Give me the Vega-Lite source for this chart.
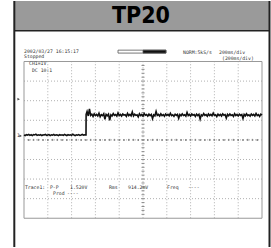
{
  "$schema": "https://vega.github.io/schema/vega-lite/v6.json",
  "width": 271,
  "height": 248,
  "padding": 0,
  "autosize": {"type": "fit", "contains": "padding"},
  "background": "white",
  "config": {"view": {"stroke": null}},
  "datasets": {
    "vgrid": [{"x": 200, "y": -4, "y2": 4}, {"x": 400, "y": -4, "y2": 4}, {"x": 600, "y": -4, "y2": 4}, {"x": 800, "y": -4, "y2": 4}, {"x": 1200, "y": -4, "y2": 4}, {"x": 1400, "y": -4, "y2": 4}, {"x": 1600, "y": -4, "y2": 4}, {"x": 1800, "y": -4, "y2": 4}, {"x": 1000, "y": -4, "y2": 4}],
    "hgrid": [{"y": -3, "x": 0, "x2": 2000}, {"y": -2, "x": 0, "x2": 2000}, {"y": -1, "x": 0, "x2": 2000}, {"y": 1, "x": 0, "x2": 2000}, {"y": 2, "x": 0, "x2": 2000}, {"y": 3, "x": 0, "x2": 2000}, {"y": 0, "x": 0, "x2": 2000}],
    "vticks": [{"y": -3.8}, {"y": -3.6}, {"y": -3.4}, {"y": -3.2}, {"y": -3}, {"y": -2.8}, {"y": -2.6}, {"y": -2.4}, {"y": -2.2}, {"y": -2}, {"y": -1.8}, {"y": -1.6}, {"y": -1.4}, {"y": -1.2}, {"y": -1}, {"y": -0.8}, {"y": -0.6}, {"y": -0.4}, {"y": -0.2}, {"y": 0}, {"y": 0.2}, {"y": 0.4}, {"y": 0.6}, {"y": 0.8}, {"y": 1}, {"y": 1.2}, {"y": 1.4}, {"y": 1.6}, {"y": 1.8}, {"y": 2}, {"y": 2.2}, {"y": 2.4}, {"y": 2.6}, {"y": 2.8}, {"y": 3}, {"y": 3.2}, {"y": 3.4}, {"y": 3.6}, {"y": 3.8}],
    "hticks": [{"x": 40}, {"x": 80}, {"x": 120}, {"x": 160}, {"x": 200}, {"x": 240}, {"x": 280}, {"x": 320}, {"x": 360}, {"x": 400}, {"x": 440}, {"x": 480}, {"x": 520}, {"x": 560}, {"x": 600}, {"x": 640}, {"x": 680}, {"x": 720}, {"x": 760}, {"x": 800}, {"x": 840}, {"x": 880}, {"x": 920}, {"x": 960}, {"x": 1000}, {"x": 1040}, {"x": 1080}, {"x": 1120}, {"x": 1160}, {"x": 1200}, {"x": 1240}, {"x": 1280}, {"x": 1320}, {"x": 1360}, {"x": 1400}, {"x": 1440}, {"x": 1480}, {"x": 1520}, {"x": 1560}, {"x": 1600}, {"x": 1640}, {"x": 1680}, {"x": 1720}, {"x": 1760}, {"x": 1800}, {"x": 1840}, {"x": 1880}, {"x": 1920}, {"x": 1960}]
  },
  "layer": [
    {
      "data": {"values": [{"x": -81.5, "x2": 2063, "y": 7.089, "y2": 5.57}]},
      "mark": {"type": "rect", "fill": "#9a9a9a"},
      "encoding": {
        "x": {"field": "x", "type": "quantitative", "scale": {"domain": [-201.7, 2075.6], "nice": false, "zero": false}, "axis": null},
        "x2": {"field": "x2"},
        "y": {"field": "y", "type": "quantitative", "scale": {"domain": [-5.468, 7.089], "nice": false, "zero": false}, "axis": null},
        "y2": {"field": "y2"}
      }
    },
    {
      "data": {"values": [{"x": -81.5, "x2": 2063, "y": 5.57}]},
      "mark": {"type": "rule", "stroke": "#222222", "strokeWidth": 1.5},
      "encoding": {
        "x": {"field": "x", "type": "quantitative", "scale": {"domain": [-201.7, 2075.6], "nice": false, "zero": false}, "axis": null},
        "x2": {"field": "x2"},
        "y": {"field": "y", "type": "quantitative", "scale": {"domain": [-5.468, 7.089], "nice": false, "zero": false}, "axis": null}
      }
    },
    {
      "data": {"values": [{"x": -81.5, "y": 7.089, "y2": -5.468}, {"x": 2063, "y": 7.089, "y2": -5.468}]},
      "mark": {"type": "rule", "stroke": "#222222", "strokeWidth": 2},
      "encoding": {
        "x": {"field": "x", "type": "quantitative", "scale": {"domain": [-201.7, 2075.6], "nice": false, "zero": false}, "axis": null},
        "y": {"field": "y", "type": "quantitative", "scale": {"domain": [-5.468, 7.089], "nice": false, "zero": false}, "axis": null},
        "y2": {"field": "y2"}
      }
    },
    {
      "data": {"values": [{"x": 983, "y": 6.33, "s": "TP20"}]},
      "mark": {"type": "text", "font": "DejaVu Sans Condensed, Liberation Sans, sans-serif", "fontWeight": "bold", "fontSize": 23, "fill": "#000000", "align": "center", "baseline": "middle"},
      "encoding": {
        "x": {"field": "x", "type": "quantitative", "scale": {"domain": [-201.7, 2075.6], "nice": false, "zero": false}, "axis": null},
        "y": {"field": "y", "type": "quantitative", "scale": {"domain": [-5.468, 7.089], "nice": false, "zero": false}, "axis": null},
        "text": {"field": "s"}
      }
    },
    {
      "data": {"name": "vgrid"},
      "mark": {"type": "rule", "stroke": "#b0b0b0", "strokeWidth": 1, "strokeDash": [1, 2]},
      "encoding": {
        "x": {"field": "x", "type": "quantitative", "scale": {"domain": [-201.7, 2075.6], "nice": false, "zero": false}, "axis": null},
        "y": {"field": "y", "type": "quantitative", "scale": {"domain": [-5.468, 7.089], "nice": false, "zero": false}, "axis": null},
        "y2": {"field": "y2"}
      }
    },
    {
      "data": {"name": "hgrid"},
      "mark": {"type": "rule", "stroke": "#b0b0b0", "strokeWidth": 1, "strokeDash": [1, 2]},
      "encoding": {
        "x": {"field": "x", "type": "quantitative", "scale": {"domain": [-201.7, 2075.6], "nice": false, "zero": false}, "axis": null},
        "x2": {"field": "x2"},
        "y": {"field": "y", "type": "quantitative", "scale": {"domain": [-5.468, 7.089], "nice": false, "zero": false}, "axis": null}
      }
    },
    {
      "data": {"name": "vticks"},
      "mark": {"type": "tick", "orient": "horizontal", "size": 3, "thickness": 1, "color": "#8a8a8a", "opacity": 1},
      "encoding": {
        "x": {"datum": 1000, "type": "quantitative", "scale": {"domain": [-201.7, 2075.6], "nice": false, "zero": false}, "axis": null},
        "y": {"field": "y", "type": "quantitative", "scale": {"domain": [-5.468, 7.089], "nice": false, "zero": false}, "axis": null}
      }
    },
    {
      "data": {"name": "hticks"},
      "mark": {"type": "tick", "orient": "vertical", "size": 2, "thickness": 1.5, "color": "#8a8a8a", "opacity": 1},
      "encoding": {
        "x": {"field": "x", "type": "quantitative", "scale": {"domain": [-201.7, 2075.6], "nice": false, "zero": false}, "axis": null},
        "y": {"datum": 0, "type": "quantitative", "scale": {"domain": [-5.468, 7.089], "nice": false, "zero": false}, "axis": null}
      }
    },
    {
      "data": {"values": [{"x": 0, "x2": 2000, "y": -4, "y2": 4}]},
      "mark": {"type": "rect", "fill": "transparent", "stroke": "#999999", "strokeWidth": 1},
      "encoding": {
        "x": {"field": "x", "type": "quantitative", "scale": {"domain": [-201.7, 2075.6], "nice": false, "zero": false}, "axis": null},
        "x2": {"field": "x2"},
        "y": {"field": "y", "type": "quantitative", "scale": {"domain": [-5.468, 7.089], "nice": false, "zero": false}, "axis": null},
        "y2": {"field": "y2"}
      }
    },
    {
      "data": {"values": [
        {"x":0,"y":0.25},{"x":10,"y":0.22},{"x":20,"y":0.27},{"x":30,"y":0.24},{"x":40,"y":0.28},{"x":50,"y":0.23},{"x":60,"y":0.26},{"x":70,"y":0.22},{"x":80,"y":0.27},{"x":90,"y":0.25},
        {"x":100,"y":0.29},{"x":110,"y":0.23},{"x":120,"y":0.26},{"x":130,"y":0.24},{"x":140,"y":0.27},{"x":150,"y":0.22},{"x":160,"y":0.26},{"x":170,"y":0.25},{"x":180,"y":0.28},{"x":190,"y":0.23},
        {"x":200,"y":0.25},{"x":210,"y":0.27},{"x":220,"y":0.22},{"x":230,"y":0.26},{"x":240,"y":0.24},{"x":250,"y":0.28},{"x":260,"y":0.23},{"x":270,"y":0.26},{"x":280,"y":0.25},{"x":290,"y":0.22},
        {"x":300,"y":0.27},{"x":310,"y":0.24},{"x":320,"y":0.26},{"x":330,"y":0.23},{"x":340,"y":0.28},{"x":350,"y":0.25},{"x":360,"y":0.22},{"x":370,"y":0.27},{"x":380,"y":0.24},{"x":390,"y":0.26},
        {"x":400,"y":0.23},{"x":410,"y":0.29},{"x":420,"y":0.25},{"x":430,"y":0.22},{"x":440,"y":0.26},{"x":450,"y":0.24},{"x":460,"y":0.27},{"x":470,"y":0.23},{"x":480,"y":0.25},{"x":490,"y":0.28},
        {"x":500,"y":0.24},{"x":510,"y":0.26},{"x":520,"y":0.25},{"x":521,"y":0.25},{"x":522,"y":1.30},
        {"x":530,"y":1.45},{"x":540,"y":1.22},{"x":550,"y":1.58},{"x":560,"y":1.25},{"x":570,"y":1.31},{"x":580,"y":1.20},{"x":590,"y":1.33},{"x":600,"y":1.24},{"x":610,"y":1.30},{"x":620,"y":1.22},
        {"x":630,"y":1.36},{"x":640,"y":1.18},{"x":650,"y":1.29},{"x":660,"y":1.24},{"x":670,"y":1.33},{"x":680,"y":1.05},{"x":690,"y":1.30},{"x":700,"y":1.23},{"x":710,"y":1.31},{"x":720,"y":1.00},
        {"x":730,"y":1.28},{"x":740,"y":1.22},{"x":750,"y":1.34},{"x":760,"y":1.25},{"x":770,"y":1.29},{"x":780,"y":1.21},{"x":790,"y":1.38},{"x":800,"y":1.24},{"x":810,"y":1.30},{"x":820,"y":1.22},
        {"x":830,"y":1.32},{"x":840,"y":1.26},{"x":850,"y":1.28},{"x":860,"y":1.20},{"x":870,"y":1.35},{"x":880,"y":1.24},{"x":890,"y":1.30},{"x":900,"y":1.23},{"x":910,"y":1.42},{"x":920,"y":1.22},
        {"x":930,"y":1.31},{"x":940,"y":1.25},{"x":950,"y":1.28},{"x":960,"y":1.17},{"x":970,"y":1.33},{"x":980,"y":1.24},{"x":990,"y":1.30},{"x":1000,"y":1.22},{"x":1010,"y":1.34},{"x":1020,"y":1.26},
        {"x":1030,"y":1.29},{"x":1040,"y":1.21},{"x":1050,"y":1.31},{"x":1060,"y":1.24},{"x":1070,"y":1.30},{"x":1080,"y":1.08},{"x":1090,"y":1.28},{"x":1100,"y":1.23},{"x":1110,"y":1.45},{"x":1120,"y":1.25},
        {"x":1130,"y":1.30},{"x":1140,"y":1.22},{"x":1150,"y":1.33},{"x":1160,"y":1.24},{"x":1170,"y":1.29},{"x":1180,"y":1.21},{"x":1190,"y":1.32},{"x":1200,"y":1.25},{"x":1210,"y":1.30},{"x":1220,"y":1.23},
        {"x":1230,"y":1.36},{"x":1240,"y":1.24},{"x":1250,"y":1.28},{"x":1260,"y":1.20},{"x":1270,"y":1.31},{"x":1280,"y":1.25},{"x":1290,"y":1.30},{"x":1300,"y":1.10},{"x":1310,"y":1.29},{"x":1320,"y":1.23},
        {"x":1330,"y":1.33},{"x":1340,"y":1.25},{"x":1350,"y":1.28},{"x":1360,"y":1.21},{"x":1370,"y":1.40},{"x":1380,"y":1.24},{"x":1390,"y":1.30},{"x":1400,"y":1.22},{"x":1410,"y":1.32},{"x":1420,"y":1.26},
        {"x":1430,"y":1.29},{"x":1440,"y":1.20},{"x":1450,"y":1.31},{"x":1460,"y":1.24},{"x":1470,"y":1.30},{"x":1480,"y":1.06},{"x":1490,"y":1.28},{"x":1500,"y":1.23},{"x":1510,"y":1.34},{"x":1520,"y":1.25},
        {"x":1530,"y":1.29},{"x":1540,"y":1.21},{"x":1550,"y":1.32},{"x":1560,"y":1.24},{"x":1570,"y":1.30},{"x":1580,"y":1.23},{"x":1590,"y":1.37},{"x":1600,"y":1.25},{"x":1610,"y":1.28},{"x":1620,"y":1.19},
        {"x":1630,"y":1.31},{"x":1640,"y":1.24},{"x":1650,"y":1.30},{"x":1660,"y":1.22},{"x":1670,"y":1.33},{"x":1680,"y":1.26},{"x":1690,"y":1.29},{"x":1700,"y":1.12},{"x":1710,"y":1.30},{"x":1720,"y":1.23},
        {"x":1730,"y":1.32},{"x":1740,"y":1.25},{"x":1750,"y":1.28},{"x":1760,"y":1.20},{"x":1770,"y":1.34},{"x":1780,"y":1.24},{"x":1790,"y":1.30},{"x":1800,"y":1.22},{"x":1810,"y":1.31},{"x":1820,"y":1.25},
        {"x":1830,"y":1.29},{"x":1840,"y":1.09},{"x":1850,"y":1.30},{"x":1860,"y":1.23},{"x":1870,"y":1.33},{"x":1880,"y":1.24},{"x":1890,"y":1.28},{"x":1900,"y":1.21},{"x":1910,"y":1.32},{"x":1920,"y":1.25},
        {"x":1930,"y":1.30},{"x":1940,"y":1.22},{"x":1950,"y":1.35},{"x":1960,"y":1.24},{"x":1970,"y":1.29},{"x":1980,"y":1.20},{"x":1990,"y":1.31},{"x":2000,"y":1.26}
      ]},
      "mark": {"type": "line", "stroke": "#111111", "strokeWidth": 1.6},
      "encoding": {
        "x": {"field": "x", "type": "quantitative", "scale": {"domain": [-201.7, 2075.6], "nice": false, "zero": false}, "axis": null},
        "y": {"field": "y", "type": "quantitative", "scale": {"domain": [-5.468, 7.089], "nice": false, "zero": false}, "axis": null},
        "order": {"field": "x", "type": "quantitative"}
      }
    },
    {
      "data": {"values": [{"x": 790, "x2": 1193, "y": 4.58, "y2": 4.43, "k": "o"}, {"x": 1000, "x2": 1193, "y": 4.58, "y2": 4.43, "k": "f"}]},
      "mark": {"type": "rect", "stroke": "#555555", "strokeWidth": 0.8},
      "encoding": {
        "x": {"field": "x", "type": "quantitative", "scale": {"domain": [-201.7, 2075.6], "nice": false, "zero": false}, "axis": null},
        "x2": {"field": "x2"},
        "y": {"field": "y", "type": "quantitative", "scale": {"domain": [-5.468, 7.089], "nice": false, "zero": false}, "axis": null},
        "y2": {"field": "y2"},
        "fill": {"field": "k", "type": "nominal", "scale": {"domain": ["o", "f"], "range": ["#ffffff", "#111111"]}, "legend": null}
      }
    },
    {
      "data": {"values": [
        {"x": 0, "y": 4.506, "s": "2002/03/27  16:15:17"},
        {"x": 0, "y": 4.228, "s": "Stopped"},
        {"x": 42, "y": 3.848, "s": "CH1=1V"},
        {"x": 67, "y": 3.519, "s": "DC 10:1"},
        {"x": 1336, "y": 4.45, "s": "NORM:5kS/s"},
        {"x": 1639, "y": 4.45, "s": "200ms/div"},
        {"x": 1664, "y": 4.15, "s": "(200ms/div)"},
        {"x": 8, "y": -2.481, "s": "Trace1:"},
        {"x": 218, "y": -2.481, "s": "P-P"},
        {"x": 387, "y": -2.481, "s": "1.520V"},
        {"x": 714, "y": -2.481, "s": "Rms"},
        {"x": 874, "y": -2.481, "s": "914.2mV"},
        {"x": 1202, "y": -2.481, "s": "Freq"},
        {"x": 1378, "y": -2.481, "s": "----"},
        {"x": 244, "y": -2.785, "s": "Prod"},
        {"x": 361, "y": -2.785, "s": "----"},
        {"x": -58, "y": 0.2, "s": "1"}
      ]},
      "mark": {"type": "text", "font": "DejaVu Sans Mono", "fontSize": 4.8, "fill": "#333333", "align": "left", "baseline": "middle"},
      "encoding": {
        "x": {"field": "x", "type": "quantitative", "scale": {"domain": [-201.7, 2075.6], "nice": false, "zero": false}, "axis": null},
        "y": {"field": "y", "type": "quantitative", "scale": {"domain": [-5.468, 7.089], "nice": false, "zero": false}, "axis": null},
        "text": {"field": "s"}
      }
    },
    {
      "data": {"values": [{"x": -28, "y": 0.2}, {"x": -45, "y": 2.08}]},
      "mark": {"type": "point", "shape": "triangle-right", "filled": true, "size": 8, "fill": "#444444", "opacity": 1},
      "encoding": {
        "x": {"field": "x", "type": "quantitative", "scale": {"domain": [-201.7, 2075.6], "nice": false, "zero": false}, "axis": null},
        "y": {"field": "y", "type": "quantitative", "scale": {"domain": [-5.468, 7.089], "nice": false, "zero": false}, "axis": null}
      }
    }
  ]
}
